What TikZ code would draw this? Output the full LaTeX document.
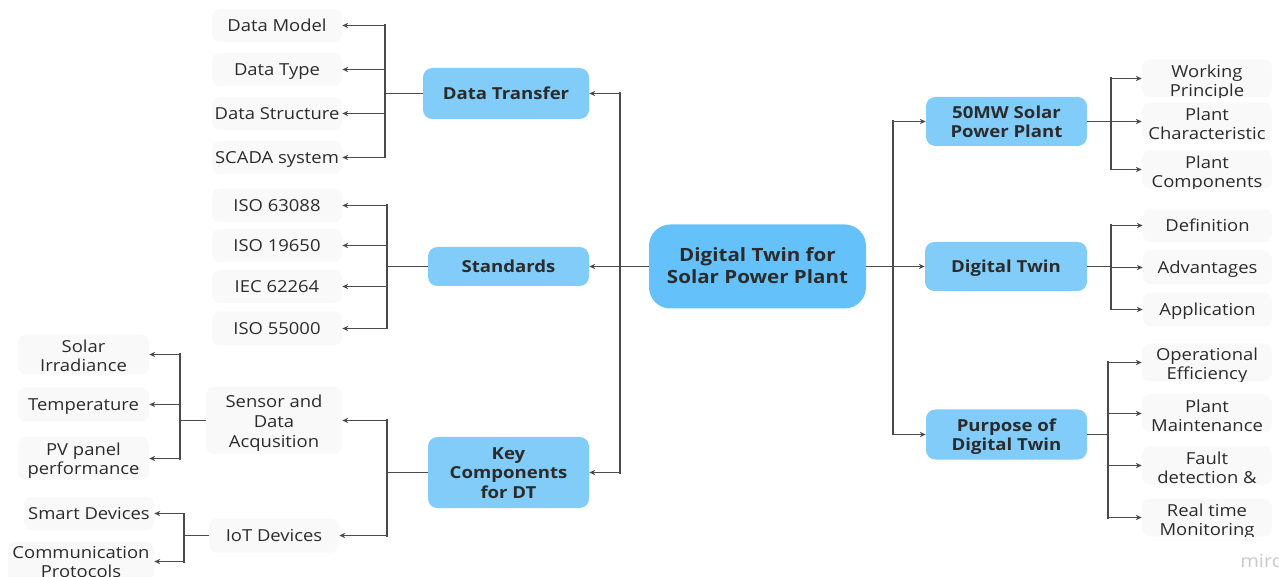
\documentclass[tikz,border=0pt]{standalone}
\usepackage{fontspec}
\setmainfont{Open Sans}[FakeStretch=1.115,BoldFeatures={FakeStretch=1.125}]
\usetikzlibrary{arrows.meta}
\definecolor{rootblue}{HTML}{64C1F9}
\definecolor{midblue}{HTML}{82CCF9}
\definecolor{leafgrey}{HTML}{F9F9F9}
\definecolor{ink}{HTML}{2B2B2B}
\definecolor{linegrey}{HTML}{4A4A4A}
\definecolor{markgrey}{HTML}{C8C8D2}
% text block centred on its node; optional argument moves it down, in pixels
\newcommand{\ml}[2][0]{\raisebox{\dimexpr-4.9pt-#1\dimexpr0.75pt\relax\relax}[0pt][0pt]{\begin{tabular}{@{}c@{}}#2\end{tabular}}}
\tikzset{
  wh/.style 2 args={minimum width=#1*0.75pt,minimum height=#2*0.75pt},
  leaftext/.style={font=\fontsize{12.4}{14.7}\selectfont,text=ink,inner sep=0pt},
  leaf/.style={leaftext,fill=leafgrey,rounded corners=6pt},
  cliptext/.style={path picture={\node[leaftext] at (path picture bounding box.center) {#1};}},
  mid/.style={font=\bfseries\fontsize{12.4}{14.8}\selectfont,text=ink,inner sep=0pt,fill=midblue,rounded corners=7pt},
  rootnode/.style={font=\bfseries\fontsize{13.7}{16.4}\selectfont,text=ink,inner sep=0pt,fill=rootblue,rounded corners=16pt},
  link/.style={draw=linegrey,line width=0.9pt},
  trunk/.style={draw=linegrey,line width=1.5pt,line cap=rect},
  arrow/.style={link,-{Stealth[length=4.5pt,width=4pt]}},
}
\begin{document}
\begin{tikzpicture}[x=0.75pt,y=-0.75pt]
\useasboundingbox (0,0) rectangle (1279,577);
% nodes
\node[rootnode,wh={217}{84}] (root) at (757.5,266.5) {\ml[-0.5]{Digital Twin for\\Solar Power Plant}};
\node[mid,wh={166}{51}] (transfer) at (506,93.5) {\ml{Data Transfer}};
\node[mid,wh={161}{39}] (standards) at (508.5,266.5) {\ml{Standards}};
\node[mid,wh={161}{71}] (key) at (508.5,472.5) {\ml{Key\\Components\\for DT}};
\node[mid,wh={161}{49}] (solar) at (1006.5,121.5) {\ml{50MW Solar\\Power Plant}};
\node[mid,wh={162}{49}] (dt) at (1006,266.5) {\ml{Digital Twin}};
\node[mid,wh={161}{50}] (purpose) at (1006.5,434.5) {\ml{Purpose of\\Digital Twin}};
% left leaves
\node[leaf,wh={130}{33}] (model) at (277,25.5) {\ml{Data Model}};
\node[leaf,wh={130}{33}] (type) at (277,69.5) {\ml{Data Type}};
\node[leaf,wh={130}{33}] (structure) at (277,113.5) {\ml{Data Structure}};
\node[leaf,wh={130}{33}] (scada) at (277,157.5) {\ml{SCADA system}};
\node[leaf,wh={130}{34}] (isoa) at (277,205.5) {\ml{ISO 63088}};
\node[leaf,wh={130}{33}] (isob) at (277,245.5) {\ml{ISO 19650}};
\node[leaf,wh={130}{33}] (iec) at (277,286.5) {\ml{IEC 62264}};
\node[leaf,wh={130}{34}] (isoc) at (277,328.5) {\ml{ISO 55000}};
\node[leaf,wh={136}{67}] (sensor) at (274,420.5) {\ml[0.5]{Sensor and\\Data\\Acqusition}};
\node[leaf,wh={130}{34}] (iot) at (274,535.5) {\ml{IoT Devices}};
\node[leaf,wh={131}{40}] (irr) at (83.5,354.5) {\ml[1]{Solar\\Irradiance}};
\node[leaf,wh={131}{34}] (temp) at (83.5,404.5) {\ml{Temperature}};
\node[leaf,wh={131}{43}] (pv) at (83.5,458.5) {\ml{PV panel\\performance}};
\node[leaf,wh={130}{34}] (smart) at (89,513.5) {\ml{Smart Devices}};
\node[leaf,wh={146}{40},cliptext={\ml{Communication\\Protocols}}] (comm) at (81,561.5) {};
% right leaves
\node[leaf,wh={130}{38},cliptext={\ml[2]{Working\\Principle}}] (working) at (1207,78.5) {};
\node[leaf,wh={130}{38}] (character) at (1207,121.5) {\ml[2]{Plant\\Characteristic}};
\node[leaf,wh={130}{38},cliptext={\ml[2]{Plant\\Components}}] (components) at (1207,169.5) {};
\node[leaf,wh={129}{34}] (definition) at (1207.5,225.5) {\ml{Definition}};
\node[leaf,wh={129}{34}] (advantages) at (1207.5,267.5) {\ml{Advantages}};
\node[leaf,wh={129}{34}] (application) at (1207.5,309.5) {\ml{Application}};
\node[leaf,wh={130}{38},cliptext={\ml[1]{Operational\\Efficiency}}] (operational) at (1207,362.5) {};
\node[leaf,wh={130}{38}] (maintenance) at (1207,413.5) {\ml[2]{Plant\\Maintenance}};
\node[leaf,wh={130}{38},cliptext={\ml[2]{Fault\\detection \&}}] (fault) at (1207,465.5) {};
\node[leaf,wh={130}{38},cliptext={\ml[2]{Real time\\Monitoring}}] (realtime) at (1207,517.5) {};
\node[font=\fontsize{13.5}{15}\selectfont,text=markgrey,anchor=west,inner sep=0pt] (mark) at (1240,561) {mirc};
% trunk positions
\coordinate (tc) at (620,0);
\coordinate (td) at (893,0);
\coordinate (tl) at (385,0);
\coordinate (ts) at (387,0);
\coordinate (tn) at (180,0);
\coordinate (ti) at (184,0);
\coordinate (tr) at (1111,0);
\coordinate (tp) at (1108,0);
% trunks
\draw[trunk] (transfer.east -| tc) -- (key.east -| tc);
\draw[trunk] (solar.west -| td) -- (purpose.west -| td);
\draw[trunk] (model.east -| tl) -- (scada.east -| tl);
\draw[trunk] (isoa.east -| ts) -- (isoc.east -| ts);
\draw[trunk] (sensor.east -| ts) -- (iot.east -| ts);
\draw[trunk] (irr.east -| tn) -- (pv.east -| tn);
\draw[trunk] (smart.east -| ti) -- (comm.east -| ti);
\draw[trunk] (working.west -| tr) -- (components.west -| tr);
\draw[trunk] (definition.west -| tr) -- (application.west -| tr);
\draw[trunk] (operational.west -| tp) -- (realtime.west -| tp);
% connectors
\draw[arrow] (root.west) -- (standards.east);
\draw[arrow] (transfer.east -| tc) -- (transfer.east);
\draw[arrow] (key.east -| tc) -- (key.east);
\draw[arrow] (root.east) -- (dt.west);
\draw[arrow] (solar.west -| td) -- (solar.west);
\draw[arrow] (purpose.west -| td) -- (purpose.west);
\draw[link] (transfer.west) -- (transfer.west -| tl);
\foreach \n in {model,type,structure,scada}
  \draw[arrow] (\n.east -| tl) -- (\n.east);
\draw[link] (standards.west) -- (standards.west -| ts);
\foreach \n in {isoa,isob,iec,isoc}
  \draw[arrow] (\n.east -| ts) -- (\n.east);
\draw[link] (key.west) -- (key.west -| ts);
\foreach \n in {sensor,iot}
  \draw[arrow] (\n.east -| ts) -- (\n.east);
\draw[link] (sensor.west) -- (sensor.west -| tn);
\foreach \n in {irr,temp,pv}
  \draw[arrow] (\n.east -| tn) -- (\n.east);
\draw[link] (iot.west) -- (iot.west -| ti);
\foreach \n in {smart,comm}
  \draw[arrow] (\n.east -| ti) -- (\n.east);
\draw[link] (solar.east) -- (solar.east -| tr);
\foreach \n in {working,character,components}
  \draw[arrow] (\n.west -| tr) -- (\n.west);
\draw[link] (dt.east) -- (dt.east -| tr);
\foreach \n in {definition,advantages,application}
  \draw[arrow] (\n.west -| tr) -- (\n.west);
\draw[link] (purpose.east) -- (purpose.east -| tp);
\foreach \n in {operational,maintenance,fault,realtime}
  \draw[arrow] (\n.west -| tp) -- (\n.west);
\end{tikzpicture}
\end{document}
